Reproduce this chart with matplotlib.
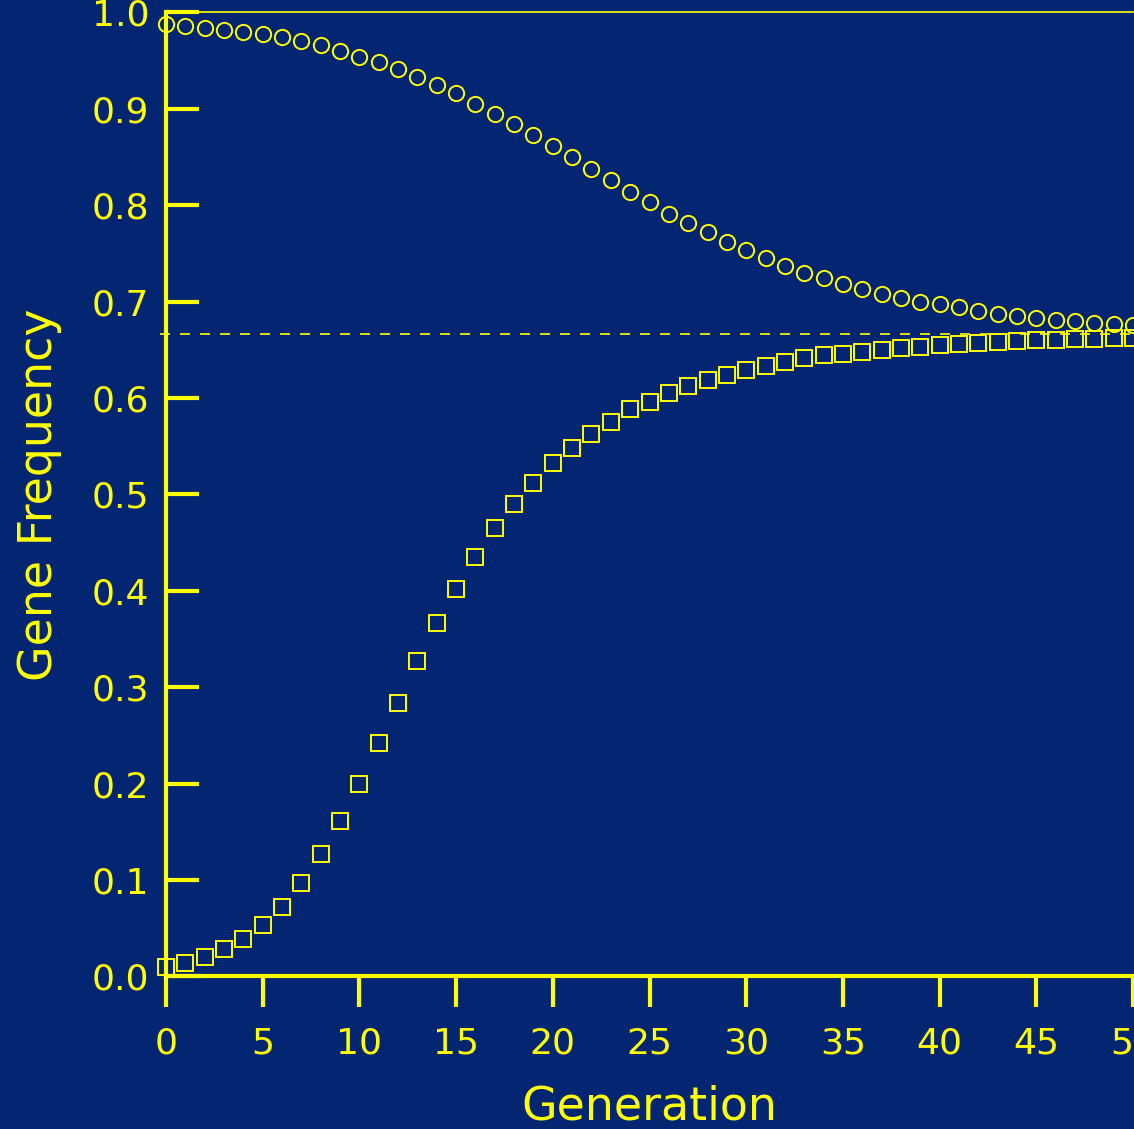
import matplotlib
matplotlib.use('Agg')
import matplotlib.pyplot as plt
import numpy as np

# gene frequency per generation
generation = list(range(51))
freq_high = [0.988, 0.986, 0.984, 0.982, 0.980, 0.977, 0.974, 0.970, 0.966, 0.960,
             0.954, 0.948, 0.941, 0.933, 0.925, 0.916, 0.905, 0.895, 0.884, 0.873,
             0.861, 0.850, 0.837, 0.826, 0.814, 0.803, 0.791, 0.781, 0.772, 0.762,
             0.753, 0.745, 0.737, 0.730, 0.724, 0.718, 0.713, 0.708, 0.704, 0.700,
             0.697, 0.694, 0.690, 0.687, 0.685, 0.683, 0.681, 0.680, 0.678, 0.677,
             0.676]
freq_low = [0.010, 0.014, 0.020, 0.028, 0.039, 0.053, 0.072, 0.097, 0.127, 0.161,
            0.200, 0.242, 0.284, 0.327, 0.366, 0.402, 0.435, 0.465, 0.490, 0.512,
            0.532, 0.548, 0.563, 0.575, 0.588, 0.596, 0.605, 0.612, 0.619, 0.624,
            0.629, 0.633, 0.637, 0.641, 0.644, 0.646, 0.648, 0.650, 0.652, 0.653,
            0.655, 0.656, 0.657, 0.658, 0.659, 0.660, 0.660, 0.661, 0.661, 0.662,
            0.662]
equilibrium = 0.6667

x_ticks = list(range(0, 51, 5))
y_ticks = [0.0, 0.1, 0.2, 0.3, 0.4, 0.5, 0.6, 0.7, 0.8, 0.9, 1.0]

bg = '#032572'
fg = '#ffff00'

plt.rcParams['font.family'] = ['DejaVu Sans']

W, H = 1134, 1129
fig = plt.figure(figsize=(W / 100, H / 100), dpi=100, facecolor=bg)
left, right = 166, 1133
top, bottom = 12.3, 976.3
ax = fig.add_axes([left / W, 1 - bottom / H, (right - left) / W, (bottom - top) / H])
ax.set_facecolor(bg)
ax.set_xlim(0, 50)
ax.set_ylim(0, 0.998)

ax.axhline(equilibrium, xmin=-0.006, xmax=1, color=fg, lw=1.2,
           dashes=(6, 6), clip_on=False, zorder=2)

ax.plot(generation, freq_high, ls='none', marker='o', ms=11, mfc='none',
        mec=fg, mew=1.4, clip_on=False, zorder=5)
ax.plot(generation, freq_low, ls='none', marker='s', ms=11, mfc='none',
        mec=fg, mew=1.4, clip_on=False, zorder=5)

for s in ['left', 'bottom']:
    ax.spines[s].set_color(fg)
    ax.spines[s].set_linewidth(3)
ax.spines['top'].set_color(fg)
ax.spines['top'].set_linewidth(1.2)
ax.spines['right'].set_visible(False)

ax.set_xticks(x_ticks)
ax.set_yticks(y_ticks)
ax.set_yticklabels(['%.1f' % v for v in y_ticks])
ax.tick_params(axis='y', direction='in', length=24, width=3, color=fg,
               labelcolor=fg, labelsize=26, pad=12)
ax.tick_params(axis='x', direction='out', length=22, width=3, color=fg,
               labelcolor=fg, labelsize=26, pad=14)

ax.set_xlabel('Generation', color=fg, fontsize=33)
ax.xaxis.set_label_coords(0.5, -0.112)
ax.set_ylabel('Gene Frequency', color=fg, fontsize=33)
ax.yaxis.set_label_coords(-0.108, 0.5)

fig.savefig('out.png', dpi=100, facecolor=bg)
